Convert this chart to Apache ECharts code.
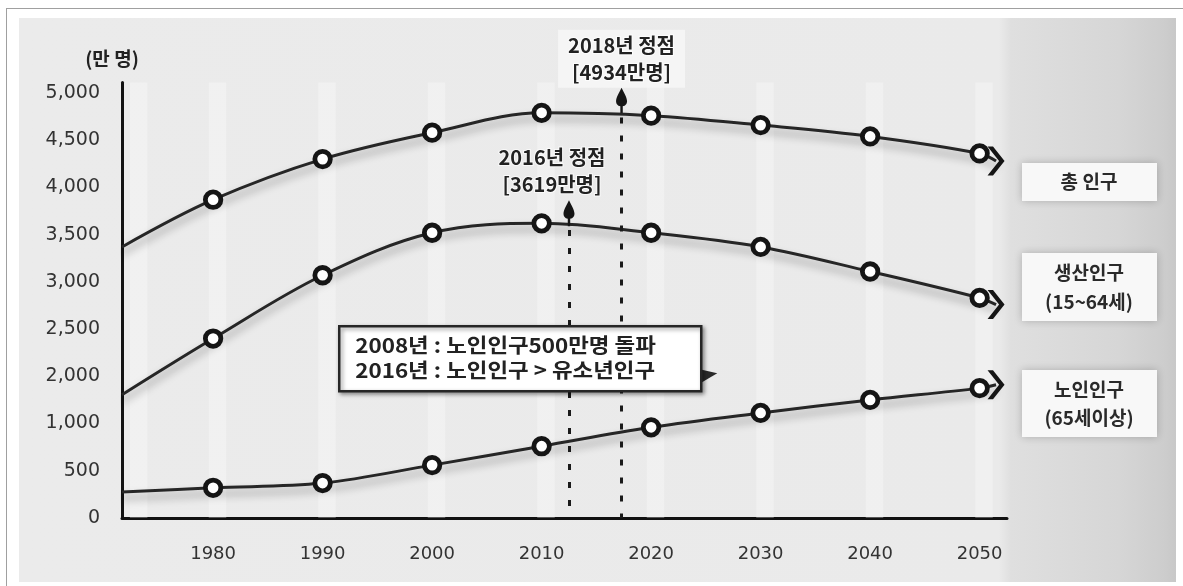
<!DOCTYPE html>
<html>
<head>
<meta charset="utf-8">
<script src="https://cdn.jsdelivr.net/npm/echarts@6/dist/echarts.min.js"></script>
<style>
html,body{margin:0;padding:0;background:#fff;width:1183px;height:586px;overflow:hidden;}
#frame{position:absolute;left:6px;top:8px;width:1177px;height:578px;border-left:1px solid #a0a0a0;border-top:1px solid #a0a0a0;box-sizing:border-box;}
#bg{position:absolute;left:19px;top:18px;width:1157px;height:564px;
 background:linear-gradient(to right,#ebebeb 0px,#eaeaea 980px,#dfdfdf 992px,#d6d6d6 1100px,#cdcdcd 1145px,#c8c8c8 1157px);}
#chart{position:absolute;left:0;top:0;width:1183px;height:586px;}
</style>
</head>
<body>
<div id="frame"></div>
<div id="bg"></div>
<div id="chart"></div>
<script>
// ---- data (만 명) ----
const years = [1980, 1990, 2000, 2010, 2020, 2030, 2040, 2050];
const lineStartYear = 1971.68;   // curves begin at the y axis
const lineEndYear = 2051.5;      // arrow heads
const totalStart = 3370;
const totalValues = [3870, 4300, 4580, 4790, 4760, 4660, 4540, 4360];
const totalEnd = 4280;
const workingStart = 1610;
const workingValues = [2400, 3070, 3520, 3620, 3520, 3370, 3110, 2830];
const workingEnd = 2760;
const elderlyStart = 275;
const elderlyValues = [320, 370, 560, 760, 960, 1225, 1500, 1750];
const elderlyEnd = 1820;
const yTickValues = [0, 500, 1000, 2000, 2500, 3000, 3500, 4000, 4500, 5000];
const yTickLabels = ['0', '500', '1,000', '2,000', '2,500', '3,000', '3,500', '4,000', '4,500', '5,000'];
const yUnit = '(만 명)';
const seriesNames = ['총 인구', '생산인구', '노인인구'];
const legendLabels = ['총 인구', '생산인구\n(15~64세)', '노인인구\n(65세이상)'];
const peakX = [2017.3, 2012.5];
const peakCurve = [4780, 3590];
const peakLabels = ['2018년 정점\n[4934만명]', '2016년 정점\n[3619만명]'];
const noteLines = ['2008년 : 노인인구500만명 돌파', '2016년 : 노인인구 > 유소년인구'];

const FONT = "'Noto Sans CJK KR','Noto Sans',sans-serif";
const NUMFONT = "'DejaVu Sans','Noto Sans CJK KR',sans-serif";
const CHEVRON = 'path://M0,0 L4.5,0 L14,12 L4.5,24 L0,24 L9.5,12 Z';
const PIN = 'path://M5,0 C6.5,4 9.5,9 9.5,13 C9.5,16 7.5,18 5,18 C2.5,18 0.5,16 0.5,13 C0.5,9 3.5,4 5,0 Z M4,17 L6,17 L6,25 L4,25 Z';

// the y axis of the picture has evenly spaced ticks with uneven values (0,500,1000,2000,...)
function toAxis(v) {
  const t = yTickValues;
  for (let i = 0; i < t.length - 1; i++) {
    if (v <= t[i + 1]) return i + (v - t[i]) / (t[i + 1] - t[i]);
  }
  const n = t.length - 1;
  return n + (v - t[n]) / (t[n] - t[n - 1]);
}
function buildData(start, values, end) {
  const pts = [{ value: [lineStartYear, toAxis(start)], symbol: 'none' }];
  years.forEach((y, i) => pts.push({ value: [y, toAxis(values[i])] }));
  pts.push({
    value: [lineEndYear, toAxis(end)], symbol: CHEVRON, symbolSize: [17, 29],
    itemStyle: { color: '#151515', borderWidth: 0 }
  });
  return pts;
}

const lineStyle = { color: '#262626', width: 3, shadowColor: 'rgba(0,0,0,0.4)', shadowBlur: 9, shadowOffsetY: 6 };
const markerStyle = { color: '#ffffff', borderColor: '#151515', borderWidth: 4.8 };
const bandData = [[1972.4, 1974.0]].concat(years.map(y => [y - 0.4, y + 1.2]))
  .map(b => [{ xAxis: b[0] }, { xAxis: b[1] }]);

function peakMarkPoint(i, withBg) {
  return {
    symbol: PIN, symbolSize: [11, 26], symbolOffset: [0, -13], symbolKeepAspect: false,
    itemStyle: { color: '#151515' }, silent: true,
    data: [{
      coord: [peakX[i], toAxis(peakCurve[i])],
      label: {
        show: true, position: 'top', distance: withBg ? 0 : 2, offset: withBg ? [0, 0] : [-17, 0],
        formatter: peakLabels[i], fontFamily: FONT, fontSize: 20, fontWeight: 'bold',
        lineHeight: 27, color: '#222', align: 'center',
        backgroundColor: withBg ? 'rgba(246,246,246,0.9)' : 'transparent',
        padding: withBg ? [2, 10, 2, 10] : 0,
        textBorderColor: 'rgba(255,255,255,0.7)', textBorderWidth: 2
      }
    }]
  };
}
function peakMarkLine(i) {
  return {
    symbol: ['none', 'none'], silent: true, label: { show: false },
    lineStyle: { color: '#1a1a1a', width: 3, type: [6, 12] },
    data: [[{ coord: [peakX[i], toAxis(peakCurve[i]) - 0.08] }, { coord: [peakX[i], 0] }]]
  };
}
function txt(x, y, text, size, extra) {
  return Object.assign({ type: 'text', x: x, y: y, z: 101,
    style: Object.assign({ text: text, fontFamily: FONT, fontSize: size, fontWeight: 'bold', fill: '#222', verticalAlign: 'middle' }, extra || {}) });
}

const chart = echarts.init(document.getElementById('chart'), null, { renderer: 'canvas' });
const option = {
  animation: false,
  backgroundColor: 'transparent',
  textStyle: { fontFamily: FONT },
  grid: { left: 122, right: 176, top: 82.6, bottom: 68 },
  xAxis: {
    type: 'value', min: 1971.68, max: 2052.5,
    axisLine: { show: true, onZero: false, lineStyle: { color: '#111', width: 3 } },
    axisTick: { show: false }, splitLine: { show: false },
    axisLabel: {
      customValues: years, formatter: v => String(v), margin: 27,
      fontSize: 18, color: '#333', fontFamily: NUMFONT
    }
  },
  yAxis: {
    type: 'value', min: 0, max: 9.22, interval: 1,
    name: yUnit, nameLocation: 'end', nameGap: 14,
    nameTextStyle: { fontFamily: FONT, fontSize: 19, fontWeight: 'bold', color: '#222', align: 'center', padding: [0, 20, 0, 0] },
    axisLine: { show: true, lineStyle: { color: '#111', width: 3 } },
    axisTick: { show: false }, splitLine: { show: false },
    axisLabel: {
      formatter: v => (Math.abs(v - Math.round(v)) < 1e-6 && yTickLabels[Math.round(v)] !== undefined) ? yTickLabels[Math.round(v)] : '',
      margin: 22, fontSize: 19, color: '#333', fontFamily: NUMFONT
    }
  },
  series: [
    {
      name: seriesNames[2], type: 'line', smooth: 0.35, clip: false, z: 3,
      data: buildData(elderlyStart, elderlyValues, elderlyEnd),
      symbol: 'circle', symbolSize: 15.5, lineStyle: lineStyle, itemStyle: markerStyle,
      markArea: { silent: true, itemStyle: { color: 'rgba(255,255,255,0.3)' }, data: bandData }
    },
    {
      name: seriesNames[1], type: 'line', smooth: 0.35, clip: false, z: 4,
      data: buildData(workingStart, workingValues, workingEnd),
      symbol: 'circle', symbolSize: 15.5, lineStyle: lineStyle, itemStyle: markerStyle,
      markPoint: peakMarkPoint(1, false), markLine: peakMarkLine(1)
    },
    {
      name: seriesNames[0], type: 'line', smooth: 0.35, clip: false, z: 5,
      data: buildData(totalStart, totalValues, totalEnd),
      symbol: 'circle', symbolSize: 15.5, lineStyle: lineStyle, itemStyle: markerStyle,
      markPoint: peakMarkPoint(0, true), markLine: peakMarkLine(0)
    }
  ],
  graphic: {
    z: 100,
    elements: [
      {
        type: 'group', left: 338, top: 325, z: 100,
        children: [
          { type: 'polygon', z: 100, shape: { points: [[356, 42], [378, 47], [356, 60]] }, style: { fill: '#2a2a2a' } },
          { type: 'rect', z: 100, shape: { x: 0, y: 0, width: 362, height: 65 },
            style: { fill: '#ffffff', stroke: '#262626', lineWidth: 2.5, shadowBlur: 4, shadowOffsetX: 2, shadowOffsetY: 2, shadowColor: 'rgba(0,0,0,0.4)' } },
          Object.assign(txt(16, 19, noteLines[0], 20), { scaleX: 1.12 }),
          Object.assign(txt(16, 44, noteLines[1], 20), { scaleX: 1.12 })
        ]
      },
      {
        type: 'group', left: 1022, top: 163, z: 100,
        children: [
          { type: 'rect', z: 100, shape: { x: 0, y: 0, width: 135, height: 38 }, style: { fill: '#f8f8f8', shadowBlur: 8, shadowColor: 'rgba(0,0,0,0.22)' } },
          txt(67, 19, legendLabels[0], 19, { align: 'center', fill: '#2a2a2a' })
        ]
      },
      {
        type: 'group', left: 1022, top: 253, z: 100,
        children: [
          { type: 'rect', z: 100, shape: { x: 0, y: 0, width: 135, height: 68 }, style: { fill: '#f8f8f8', shadowBlur: 8, shadowColor: 'rgba(0,0,0,0.22)' } },
          txt(67, 34, legendLabels[1], 19, { align: 'center', lineHeight: 29, fill: '#2a2a2a' })
        ]
      },
      {
        type: 'group', left: 1022, top: 370, z: 100,
        children: [
          { type: 'rect', z: 100, shape: { x: 0, y: 0, width: 135, height: 67 }, style: { fill: '#f8f8f8', shadowBlur: 8, shadowColor: 'rgba(0,0,0,0.22)' } },
          txt(67, 34, legendLabels[2], 19, { align: 'center', lineHeight: 28, fill: '#2a2a2a' })
        ]
      }
    ]
  }
};
chart.setOption(option);
</script>
</body>
</html>
